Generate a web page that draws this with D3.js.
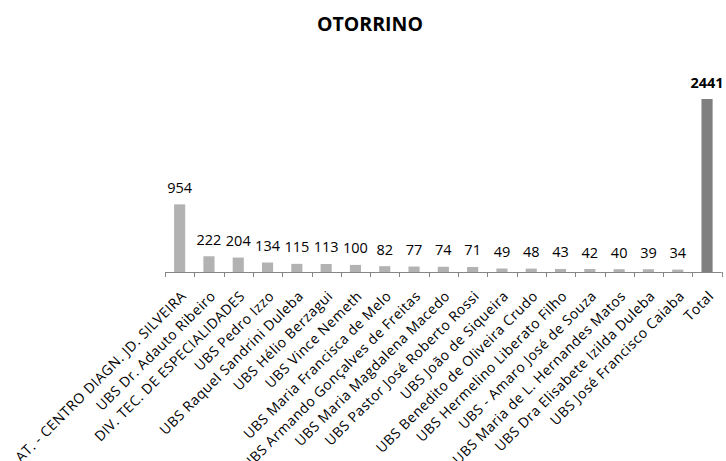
<!DOCTYPE html>
<html>
<head>
<meta charset="utf-8">
<script src="https://cdn.jsdelivr.net/npm/d3@7"></script>
<style>
body { margin: 0; background: #fff; }
text { font-family: "Open Sans", sans-serif; fill: #000; }
</style>
</head>
<body>
<script>
var categories = ["AT. - CENTRO DIAGN. JD. SILVEIRA", "UBS Dr. Adauto Ribeiro",
  "DIV. TEC. DE ESPECIALIDADES", "UBS Pedro Izzo", "UBS Raquel Sandrini Duleba",
  "UBS Hélio Berzagui", "UBS Vince Nemeth", "UBS Maria Francisca de Melo",
  "UBS Armando Gonçalves de Freitas", "UBS Maria Magdalena Macedo",
  "UBS Pastor José Roberto Rossi", "UBS João de Siqueira",
  "UBS Benedito de Oliveira Crudo", "UBS Hermelino Liberato Filho",
  "UBS - Amaro José de Souza", "UBS Maria de L. Hernandes Matos",
  "UBS Dra Elisabete Izilda Duleba", "UBS José Francisco Caiaba", "Total"];
var values = [954, 222, 204, 134, 115, 113, 100, 82, 77, 74, 71, 49, 48, 43, 42, 40, 39, 34, 2441];
var title = "OTORRINO";

var totalWidth = 726, totalHeight = 461;
var axisY = 272;

var svg = d3.select("body").append("svg")
  .attr("width", totalWidth)
  .attr("height", totalHeight);

var x = d3.scaleBand()
  .domain(categories)
  .range([165, 721.7])
  .paddingInner(0.62)
  .paddingOuter(0.31);

var y = d3.scaleLinear()
  .domain([0, 2441])
  .range([axisY, 99]);

var data = categories.map(function(c, i) { return {cat: c, val: values[i], total: c == "Total"}; });

svg.append("text")
  .attr("x", 370)
  .attr("y", 31)
  .attr("text-anchor", "middle")
  .attr("font-size", "19.5px")
  .attr("font-weight", "bold")
  .text(title);

svg.selectAll(".bar")
  .data(data)
  .enter().append("rect")
  .attr("class", "bar")
  .attr("x", function(d) { return x(d.cat); })
  .attr("width", x.bandwidth())
  .attr("y", function(d) { return y(d.val); })
  .attr("height", function(d) { return axisY - y(d.val); })
  .attr("fill", function(d) { return d.total ? "#7f7f7f" : "#b2b2b2"; });

// axis line and ticks between the categories
var step = x.step();
var ax = svg.append("g").attr("stroke", "#868686").attr("stroke-width", 1);
ax.append("line")
  .attr("x1", x.range()[0]).attr("x2", x.range()[1])
  .attr("y1", axisY + 0.5).attr("y2", axisY + 0.5);
ax.selectAll(".tick")
  .data(d3.range(categories.length + 1))
  .enter().append("line")
  .attr("x1", function(i) { return Math.round(x.range()[0] + i * step) + 0.5; })
  .attr("x2", function(i) { return Math.round(x.range()[0] + i * step) + 0.5; })
  .attr("y1", axisY)
  .attr("y2", axisY + 5);

// value labels
svg.selectAll(".val")
  .data(data)
  .enter().append("text")
  .attr("class", "val")
  .attr("x", function(d) { return x(d.cat) + x.bandwidth() / 2; })
  .attr("y", function(d) { return y(d.val) - 11.5; })
  .attr("text-anchor", "middle")
  .attr("font-size", "14.5px")
  .attr("font-weight", function(d) { return d.total ? "bold" : "normal"; })
  .text(function(d) { return d.val; });

// category labels
svg.selectAll(".cat")
  .data(data)
  .enter().append("text")
  .attr("class", "cat")
  .attr("text-anchor", "end")
  .attr("font-size", "14px")
  .attr("letter-spacing", "0.5px")
  .attr("transform", function(d) {
    return "translate(" + (x(d.cat) + x.bandwidth() / 2 + 7.5) + "," + 297 + ") rotate(-45)";
  })
  .text(function(d) { return d.cat; });
</script>
</body>
</html>
